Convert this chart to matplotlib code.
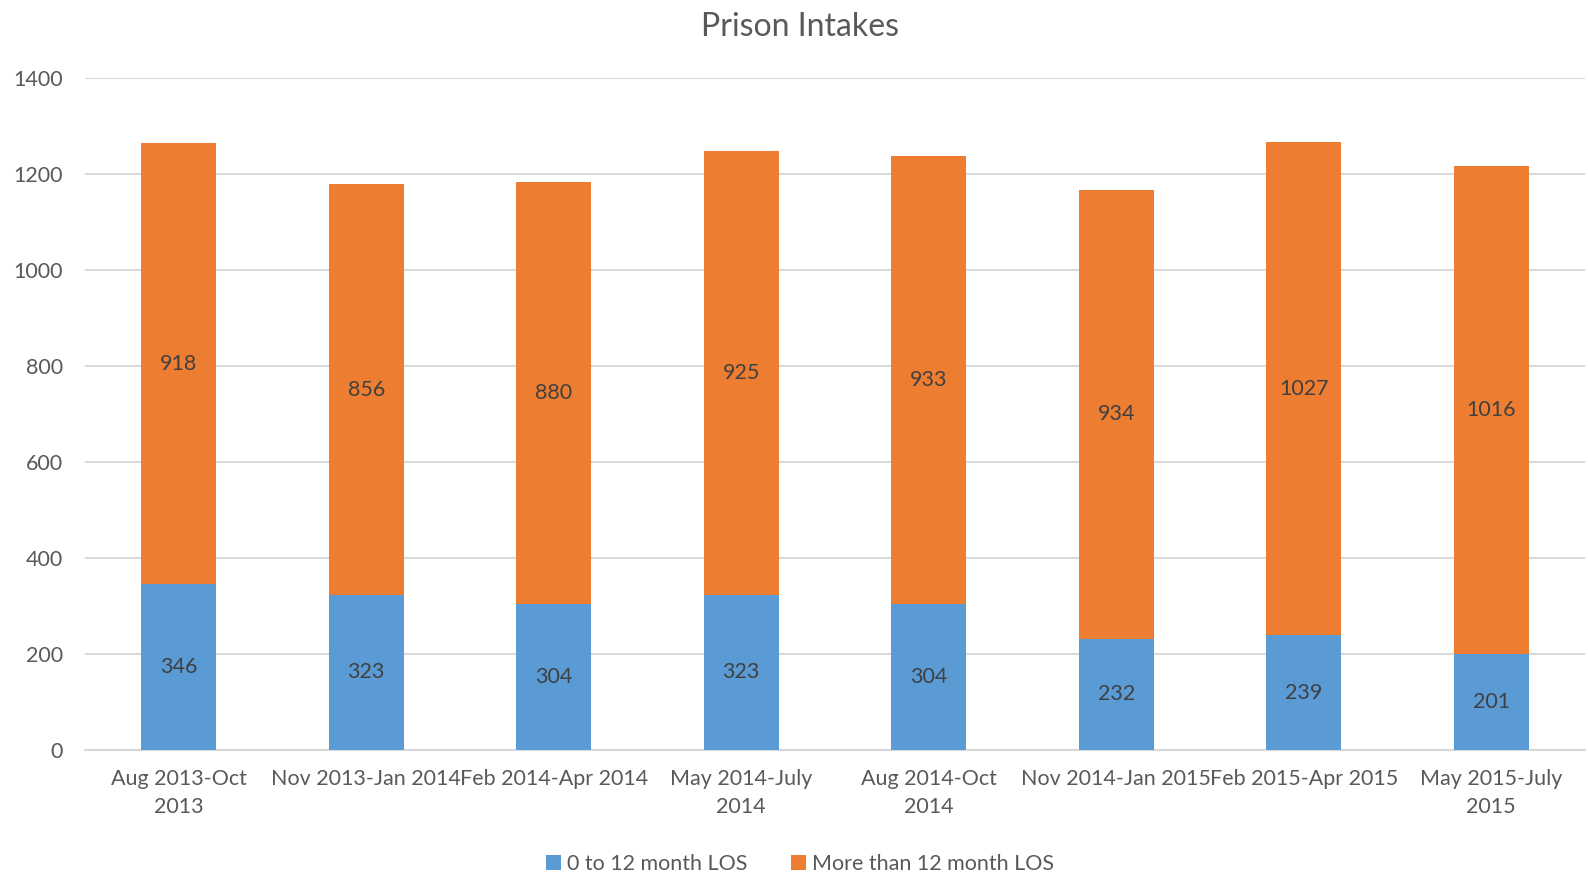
import matplotlib.pyplot as plt
import numpy as np

plt.rcParams['font.family'] = ['Lato', 'DejaVu Sans']

periods = ['Aug 2013-Oct\n2013', 'Nov 2013-Jan 2014', 'Feb 2014-Apr 2014', 'May 2014-July\n2014',
           'Aug 2014-Oct\n2014', 'Nov 2014-Jan 2015', 'Feb 2015-Apr 2015', 'May 2015-July\n2015']
short_los = [346, 323, 304, 323, 304, 232, 239, 201]
long_los = [918, 856, 880, 925, 933, 934, 1027, 1016]

BLUE = '#5B9BD5'
ORANGE = '#ED7D31'
TXT = '#595959'

fig = plt.figure(figsize=(15.88, 8.72), dpi=100)
ax = fig.add_axes([85/1588, 1-750/872, 1500/1588, 672/872])

x = np.arange(len(periods))
b1 = ax.bar(x, short_los, width=0.4, color=BLUE, label='0 to 12 month LOS', zorder=3)
b2 = ax.bar(x, long_los, width=0.4, bottom=short_los, color=ORANGE, label='More than 12 month LOS', zorder=3)

# value labels in the middle of each segment
for i in x:
    ax.text(i, short_los[i]/2, str(short_los[i]), ha='center', va='center', fontsize=15.5, color='#404040', zorder=4)
    ax.text(i, short_los[i] + long_los[i]/2, str(long_los[i]), ha='center', va='center', fontsize=15.5, color='#404040', zorder=4)

ax.set_xlim(-0.5, len(periods)-0.5)
ax.set_ylim(0, 1400)
ax.set_yticks(range(0, 1401, 200))
ax.set_xticks(x)
ax.set_xticklabels(periods, fontsize=15.5, color=TXT, linespacing=1.45)
ax.tick_params(axis='y', labelsize=15.5, labelcolor=TXT, length=0, pad=16)
ax.tick_params(axis='x', length=0, pad=14)
ax.grid(axis='y', color='#D9D9D9', linewidth=1.5, zorder=0)
for s in ['top', 'right', 'left']:
    ax.spines[s].set_visible(False)
ax.spines['bottom'].set_color('#D9D9D9')
ax.spines['bottom'].set_linewidth(1.5)

fig.text(800/1588, 1-27/872, 'Prison Intakes', ha='center', va='center', fontsize=23, color=TXT)
fig.legend(handles=[b1, b2], loc='center', bbox_to_anchor=(800/1588, 1-864/872), ncol=2, frameon=False,
           fontsize=15.5, labelcolor=TXT, handlelength=0.7, handleheight=0.7, handletextpad=0.3, columnspacing=2.0)

fig.savefig('out.png', dpi=100)
